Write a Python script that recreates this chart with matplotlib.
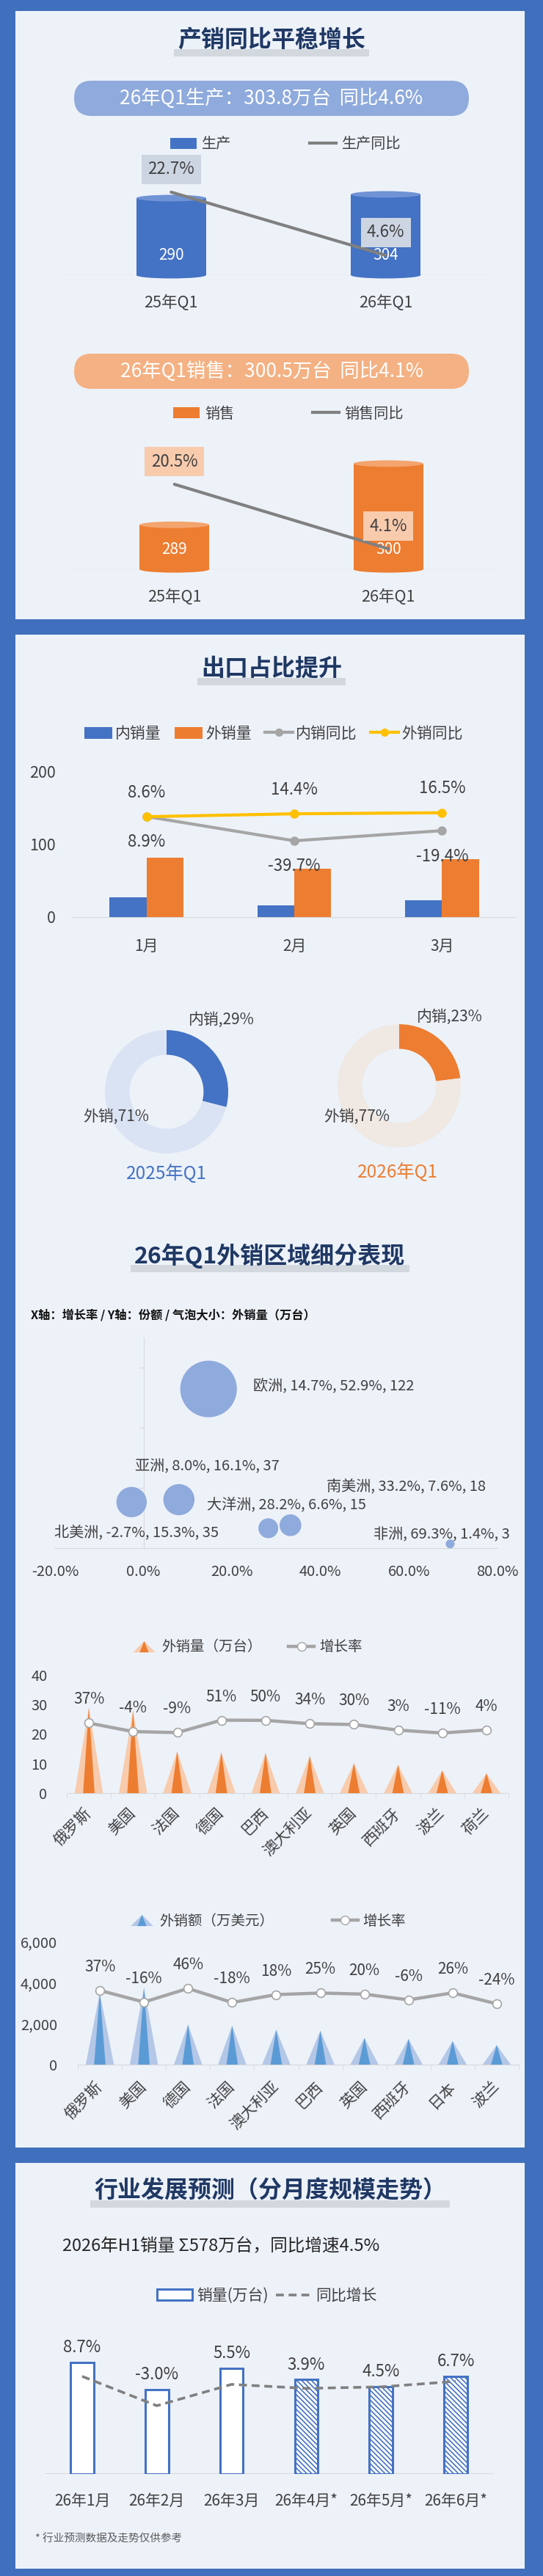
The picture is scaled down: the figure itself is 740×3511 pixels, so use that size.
import matplotlib
matplotlib.use('Agg')
import matplotlib.pyplot as plt
import numpy as np
from matplotlib.patches import Rectangle, FancyBboxPatch, Ellipse, Patch
from matplotlib.lines import Line2D
from matplotlib.legend_handler import HandlerTuple

plt.rcParams['font.family'] = ['Noto Sans CJK SC', 'DejaVu Sans']
plt.rcParams['axes.unicode_minus'] = False
plt.rcParams['hatch.linewidth'] = 1.2

# ---------------- data ----------------
quarters = ['25年Q1', '26年Q1']
production = [290, 304]
production_yoy = [22.7, 4.6]
sales = [289, 300]
sales_yoy = [20.5, 4.1]

months = ['1月', '2月', '3月']
domestic = [27, 16, 23]
export = [82, 67, 80]
domestic_yoy = [8.9, -39.7, -19.4]
export_yoy = [8.6, 14.4, 16.5]

share_labels = ['内销', '外销']
share_2025 = [29, 71]
share_2026 = [23, 77]

regions = ['欧洲', '亚洲', '北美洲', '大洋洲', '南美洲', '非洲']
region_growth = [14.7, 8.0, -2.7, 28.2, 33.2, 69.3]
region_share = [52.9, 16.1, 15.3, 6.6, 7.6, 1.4]
region_volume = [122, 37, 35, 15, 18, 3]

countries_vol = ['俄罗斯', '美国', '法国', '德国', '巴西', '澳大利亚', '英国', '西班牙', '波兰', '荷兰']
country_volume = [29, 28, 14.1, 13.8, 13.6, 12.6, 10.1, 9.6, 7.7, 6.7]
country_volume_yoy = [37, -4, -9, 51, 50, 34, 30, 3, -11, 4]

countries_val = ['俄罗斯', '美国', '德国', '法国', '澳大利亚', '巴西', '英国', '西班牙', '日本', '波兰']
country_value = [3500, 3750, 1950, 1900, 1700, 1650, 1300, 1250, 1150, 950]
country_value_yoy = [37, -16, 46, -18, 18, 25, 20, -6, 26, -24]

forecast_months = ['26年1月', '26年2月', '26年3月', '26年4月*', '26年5月*', '26年6月*']
forecast_sales = [111, 84, 105, 94, 87, 97]
forecast_yoy = [8.7, -3.0, 5.5, 3.9, 4.5, 6.7]
forecast_is_estimate = [False, False, False, True, True, True]

# ---------------- style ----------------
BORDER = '#4070BD'
PANEL = '#EDF2F9'
NAVY = '#1F3864'
BAND = '#D3D8DF'
TEXT = '#404040'
BLUE = '#4472C4'
BLUE_CAP = '#6F93D5'
ORANGE = '#ED7D31'
ORANGE_CAP = '#F4A46E'
GREY = '#808080'
LGREY = '#A5A5A5'
YELLOW = '#FFC000'
AXIS = '#D9D9D9'

W, H = 740, 3511
fig = plt.figure(figsize=(W / 100, H / 100), dpi=100, facecolor=BORDER)
bg = fig.add_axes([0, 0, 1, 1])
bg.set_xlim(0, W)
bg.set_ylim(H, 0)
bg.axis('off')
renderer = fig.canvas.get_renderer()


def px_axes(x0, y0, x1, y1):
    ax = fig.add_axes([x0 / W, 1 - y1 / H, (x1 - x0) / W, (y1 - y0) / H])
    ax.set_facecolor('none')
    return ax


def hide_spines(ax):
    for s in ax.spines.values():
        s.set_visible(False)


def fig_xy(x, y):
    return (x / W, 1 - y / H)


def title(x, y, s):
    t = bg.text(x, y, s, ha='center', va='center', fontsize=23, fontweight='bold', color=NAVY, zorder=3)
    bb = t.get_window_extent(renderer)
    bg.add_patch(Rectangle((bb.x0 - 5, y + 12), bb.width + 10, 10, fc=BAND, ec='none', zorder=2))


def pill(x0, y0, x1, y1, color, s):
    h = y1 - y0
    bg.add_patch(FancyBboxPatch((x0, y0), x1 - x0, h, boxstyle=f"round,pad=0,rounding_size={h / 2}",
                                fc=color, ec='none', zorder=2))
    bg.text((x0 + x1) / 2, (y0 + y1) / 2, s, ha='center', va='center', fontsize=19, color='white', zorder=3)


# panels
bg.add_patch(Rectangle((21, 15), 694, 829, fc=PANEL, ec='none', zorder=1))
bg.add_patch(Rectangle((21, 865), 694, 2062, fc=PANEL, ec='none', zorder=1))
bg.add_patch(Rectangle((21, 2948), 694, 553, fc=PANEL, ec='none', zorder=1))

# ================= section 1 =================
title(370, 55, '产销同比平稳增长')
pill(101, 110, 639, 158, '#8FAADC', '26年Q1生产：303.8万台  同比4.6%')
pill(101, 482, 639, 530, '#F4B183', '26年Q1销售：300.5万台  同比4.1%')


def cylinder_chart(box, values, yoy, ymin, ymax, yoy_lim, body, cap, boxcol):
    x0, y0, x1, y1 = box
    ax = px_axes(x0, y0, x1, y1)
    x = np.arange(len(values))
    ax.set_xlim(-0.5, len(values) - 0.5)
    ax.set_ylim(ymin, ymax)
    hide_spines(ax)
    ax.axhline(ymin, color=AXIS, lw=1, zorder=1)
    width = 95 / ((x1 - x0) / len(values))
    ax.bar(x, values, width=width, color=body, zorder=2)
    eh = 9 * (ymax - ymin) / (y1 - y0)
    for i, v in enumerate(values):
        ax.add_patch(Ellipse((i, ymin), width, eh, fc=body, ec='none', zorder=2, clip_on=False))
        ax.add_patch(Ellipse((i, v), width, eh, fc=cap, ec='none', zorder=3))
        ax.annotate(f"{v}", (i, ymin), xytext=(0, 27), textcoords='offset pixels', ha='center',
                    va='center', color='white', fontsize=15, zorder=5)
    ax.set_yticks([])
    ax.set_xticks(x, quarters)
    ax.tick_params(axis='x', length=0, pad=19, labelsize=15.5, labelcolor=TEXT)
    axb = ax.twinx()
    axb.set_ylim(*yoy_lim)
    axb.axis('off')
    axb.plot(x, yoy, color=GREY, lw=3, solid_capstyle='round', zorder=3)
    for i, v in enumerate(yoy):
        axb.annotate(f"{v}%", (i, v), xytext=(0, 31), textcoords='offset pixels', ha='center', va='center',
                     fontsize=16, color=TEXT, zorder=6,
                     bbox=dict(boxstyle='square,pad=0.38', fc=boxcol, ec='none'))
    return ax


cylinder_chart((87, 240, 672, 375), production, production_yoy, 0, 373, (-1.08, 27.3),
               BLUE, BLUE_CAP, '#CDD5E3')
cylinder_chart((92, 600, 675, 776), sales, sales_yoy, 281, 304.2, (-1.12, 31.7),
               ORANGE, ORANGE_CAP, '#F8CBAD')

fig.legend([Patch(fc=BLUE), Line2D([], [], color=GREY, lw=3)], ['生产', '生产同比'],
           loc='center', bbox_to_anchor=fig_xy(389, 197), ncol=2, frameon=False, fontsize=14.5,
           labelcolor=TEXT, handlelength=1.8, handleheight=0.8, handletextpad=0.35, columnspacing=5.3)
fig.legend([Patch(fc=ORANGE), Line2D([], [], color=GREY, lw=3)], ['销售', '销售同比'],
           loc='center', bbox_to_anchor=fig_xy(393, 564), ncol=2, frameon=False, fontsize=14.5,
           labelcolor=TEXT, handlelength=1.8, handleheight=0.8, handletextpad=0.35, columnspacing=5.3)

# ================= section 2: export share =================
title(370, 912, '出口占比提升')
ax = px_axes(99, 1040, 703, 1250)
x = np.arange(len(months))
ax.bar(x - 0.125, domestic, 0.25, color=BLUE, zorder=2)
ax.bar(x + 0.125, export, 0.25, color=ORANGE, zorder=2)
ax.set_xlim(-0.5, len(months) - 0.5)
ax.set_ylim(0, 212)
hide_spines(ax)
ax.spines['bottom'].set_visible(True)
ax.spines['bottom'].set_color(AXIS)
ax.set_yticks([0, 100, 200])
ax.tick_params(axis='y', length=0, pad=17, labelsize=15.5, labelcolor=TEXT)
ax.set_xticks(x, months)
ax.tick_params(axis='x', length=0, pad=21, labelsize=15, labelcolor=TEXT)
axb = ax.twinx()
axb.set_ylim(-192.7, 116.1)
axb.axis('off')
axb.plot(x, domestic_yoy, color=LGREY, lw=3, marker='o', ms=8, zorder=3)
axb.plot(x, export_yoy, color=YELLOW, lw=3, marker='o', ms=8, zorder=4)
for i, v in enumerate(export_yoy):
    axb.annotate(f"{v}%", (i, v), xytext=(0, 33), textcoords='offset pixels', ha='center', va='center',
                 fontsize=16, color=TEXT)
for i, v in enumerate(domestic_yoy):
    axb.annotate(f"{v}%", (i, v), xytext=(0, -35), textcoords='offset pixels', ha='center', va='center',
                 fontsize=16, color=TEXT)
fig.legend([Patch(fc=BLUE), Patch(fc=ORANGE),
            Line2D([], [], color=LGREY, lw=3, marker='o', ms=7),
            Line2D([], [], color=YELLOW, lw=3, marker='o', ms=7)],
           ['内销量', '外销量', '内销同比', '外销同比'],
           loc='center', bbox_to_anchor=fig_xy(373, 1000), ncol=4, frameon=False, fontsize=15,
           labelcolor=TEXT, handlelength=1.8, handleheight=0.8, handletextpad=0.2, columnspacing=0.9)


# donuts
def donut(cx, cy, shares, colors, in_pos, out_pos, year, ycol, yx, yy):
    ax = px_axes(cx - 100, cy - 100, cx + 100, cy + 100)
    ax.pie(shares, colors=colors, startangle=90, counterclock=False, radius=1,
           wedgeprops=dict(width=0.4, edgecolor='none'))
    ax.set_xlim(-1.19, 1.19)
    ax.set_ylim(-1.19, 1.19)
    ax.set_aspect('equal')
    ax.text(in_pos[0], in_pos[1], f"{share_labels[0]},{shares[0]}%", ha='center', va='center',
            fontsize=15, color=TEXT)
    ax.text(out_pos[0], out_pos[1], f"{share_labels[1]},{shares[1]}%", ha='center', va='center',
            fontsize=15, color=TEXT)
    bg.text(yx, yy, year, ha='center', va='center', fontsize=17.5, color=ycol, zorder=3)


donut(227, 1488, share_2025, [BLUE, '#DAE3F3'], (0.89, 1.17), (-0.82, -0.40), '2025年Q1', BLUE, 227, 1600)
donut(544, 1480, share_2026, [ORANGE, '#EFE8E3'], (0.82, 1.12), (-0.69, -0.50), '2026年Q1', ORANGE, 542, 1598)

# ================= bubble chart =================
title(368, 1712, '26年Q1外销区域细分表现')
bg.text(42, 1792, 'X轴：增长率 / Y轴：份额 / 气泡大小：外销量（万台）', ha='left', va='center',
        fontsize=11.7, fontweight='bold', color='#111111', zorder=3)
ax = px_axes(75, 1823, 678, 2110)
ax.scatter(region_growth, region_share, s=[25.3 * v for v in region_volume], color='#8FAADC',
           edgecolors='none', zorder=3, clip_on=False)
ax.set_xlim(-20, 80)
ax.set_ylim(0, 70)
ax.spines['top'].set_visible(False)
ax.spines['right'].set_visible(False)
ax.spines['left'].set_position(('data', 0))
ax.spines['left'].set_color(AXIS)
ax.spines['bottom'].set_color(AXIS)
xt = list(range(-20, 81, 20))
ax.set_xticks(xt, [f"{t:.1f}%" for t in xt])
ax.tick_params(axis='x', length=0, pad=16, labelsize=14.5, labelcolor=TEXT)
ax.set_yticks([20, 40, 60])
ax.set_yticklabels([])
ax.tick_params(axis='y', length=4.5, color=AXIS, direction='out')
bubble_label_offsets = [(61, 4), (-60, 45), (-105, -42), (-84, 31), (49, 53), (-104, 12)]
for name, gx, sy, vol, off in zip(regions, region_growth, region_share, region_volume, bubble_label_offsets):
    ax.annotate(f"{name}, {gx:.1f}%, {sy:.1f}%, {vol}", (gx, sy), xytext=off, textcoords='offset pixels',
                ha='left', va='center', fontsize=14.5, color=TEXT, zorder=5)


# ================= cone charts =================
def cone_chart(box, names, values, yoy, ymax, yticks, fmt, yoy_lim, light, dark, pad_y, pad_x):
    x0, y0, x1, y1 = box
    ax = px_axes(x0, y0, x1, y1)
    n = len(values)
    for i, v in enumerate(values):
        ax.fill([i - 0.32, i, i + 0.32], [0, v, 0], color=light, lw=0, zorder=2)
        ax.fill([i - 0.13, i, i + 0.13], [0, v, 0], color=dark, lw=0, zorder=3)
    ax.set_xlim(-0.5, n - 0.5)
    ax.set_ylim(0, ymax)
    hide_spines(ax)
    ax.spines['bottom'].set_visible(True)
    ax.spines['bottom'].set_color(AXIS)
    ax.set_yticks(yticks, [fmt(t) for t in yticks])
    ax.tick_params(axis='y', length=0, pad=pad_y, labelsize=14.5, labelcolor=TEXT)
    ax.set_xticks(range(n))
    ax.set_xticklabels(names, rotation=45, ha='right', va='center', rotation_mode='anchor')
    ax.tick_params(axis='x', which='major', length=0, pad=pad_x, labelsize=15, labelcolor=TEXT)
    ax.set_xticks(np.arange(-0.5, n, 1), minor=True)
    ax.tick_params(axis='x', which='minor', length=5, color=AXIS, direction='out')
    axb = ax.twinx()
    axb.set_ylim(*yoy_lim)
    axb.axis('off')
    axb.plot(range(n), yoy, color=LGREY, lw=3.2, marker='o', ms=8.5, mfc='white', mec=LGREY, mew=1.2, zorder=4)
    for i, v in enumerate(yoy):
        axb.annotate(f"{v}%", (i, v), xytext=(0, 32), textcoords='offset pixels', ha='center', va='center',
                     fontsize=15, color=TEXT)
    return ax


cone_chart((91, 2270, 693, 2444), countries_vol, country_volume, country_volume_yoy, 43.2, [0, 10, 20, 30, 40],
           lambda t: f"{t}", (-300.6, 314.3), '#F8CBAD', ORANGE, 19, 17)
cone_chart((106, 2630, 707, 2814), countries_val, country_value, country_value_yoy, 6571, [0, 2000, 4000, 6000],
           lambda t: f"{t:,}", (-300, 313), '#B4C7E7', '#5B9BD5', 20, 19)


def cone_handle(light, dark):
    return (Line2D([], [], ls='none', marker=[(-1, -0.5), (0, 0.5), (1, -0.5)], ms=22, mfc=light, mec='none'),
            Line2D([], [], ls='none', marker=[(-0.8, -1), (0, 1), (0.8, -1)], ms=11, mfc=dark, mec='none'))


growth_handle = Line2D([], [], color=LGREY, lw=3.2, marker='o', ms=8.5, mfc='white', mec=LGREY)
fig.legend([cone_handle('#F8CBAD', ORANGE), growth_handle], ['外销量（万台）', '增长率'],
           handler_map={tuple: HandlerTuple(ndivide=1)},
           loc='center', bbox_to_anchor=fig_xy(336, 2245), ncol=2, frameon=False, fontsize=14,
           labelcolor=TEXT, handlelength=1.8, handletextpad=0.35, columnspacing=1.9)
fig.legend([cone_handle('#B4C7E7', '#5B9BD5'), growth_handle], ['外销额（万美元）', '增长率'],
           handler_map={tuple: HandlerTuple(ndivide=1)},
           loc='center', bbox_to_anchor=fig_xy(364, 2618), ncol=2, frameon=False, fontsize=14,
           labelcolor=TEXT, handlelength=1.8, handletextpad=0.35, columnspacing=4.1)

# ================= forecast =================
title(368, 2987, '行业发展预测（分月度规模走势）')
bg.text(85, 3062, '2026年H1销量 Σ578万台，同比增速4.5%', ha='left', va='center', fontsize=17,
        color='#262626', zorder=3)
ax = px_axes(61, 3180, 672, 3372)
n = len(forecast_sales)
for i, (v, est) in enumerate(zip(forecast_sales, forecast_is_estimate)):
    ax.bar(i, v, 0.31, facecolor='white', edgecolor=BLUE, lw=2.2,
           hatch=('\\\\\\\\\\' if est else None), zorder=2)
ax.set_xlim(-0.5, n - 0.5)
ax.set_ylim(0, 140)
hide_spines(ax)
ax.axhline(0, color=AXIS, lw=1.5, zorder=1)
ax.set_yticks([])
ax.set_xticks(range(n), forecast_months)
ax.tick_params(axis='x', length=0, pad=19, labelsize=15, labelcolor=TEXT)
for i, (v, g) in enumerate(zip(forecast_sales, forecast_yoy)):
    ax.annotate(f"{g:.1f}%", (i, v), xytext=(0, 20), textcoords='offset pixels', ha='center', va='center',
                fontsize=16, color=TEXT, zorder=6)
axb = ax.twinx()
axb.set_ylim(-30.2, 25.9)
axb.axis('off')
axb.plot(range(n), forecast_yoy, color=GREY, lw=2.6, ls=(0, (3, 1.8)), zorder=4)
fig.legend([Patch(fc='white', ec=BLUE, lw=2.2), Line2D([], [], color=GREY, lw=2.6, ls=(0, (3, 1.8)))],
           ['销量(万台)', '同比增长'], loc='center', bbox_to_anchor=fig_xy(364, 3129), ncol=2, frameon=False,
           fontsize=15, labelcolor=TEXT, handlelength=2.3, handleheight=0.76, handletextpad=0.3,
           columnspacing=0.5)
bg.text(48, 3461, '* 行业预测数据及走势仅供参考', ha='left', va='center', fontsize=10.5, color='#595959', zorder=3)

fig.savefig('out.png', dpi=100, facecolor=BORDER)
